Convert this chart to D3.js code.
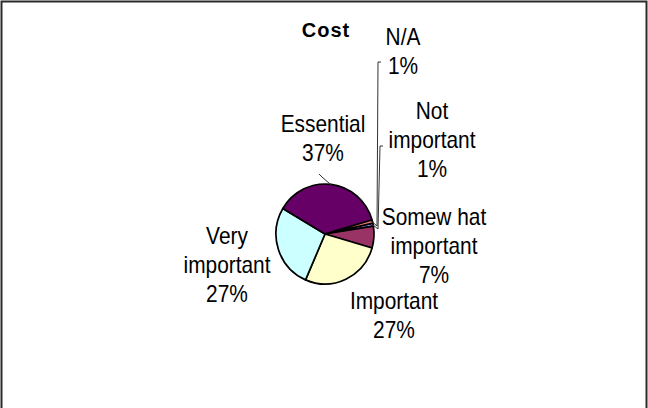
<!DOCTYPE html>
<html>
<head>
<meta charset="utf-8">
<script src="https://cdn.jsdelivr.net/npm/d3@7"></script>
<style>
  html, body { margin: 0; padding: 0; background: #fff; }
  svg { display: block; }
  text { font-family: Arial, "Liberation Sans", sans-serif; fill: #000; }
</style>
</head>
<body>
<script>
// Survey answers for "Cost", in worksheet order (drawn clockwise)
const categories = ["Not important", "Somewhat important", "Important", "Very important", "Essential", "N/A"];
const values = [1, 7, 27, 27, 37, 1];
const colors = ["#9999FF", "#993366", "#FFFFCC", "#CCFFFF", "#660066", "#FF8080"];
// Label text as printed next to each slice, line by line
const labelLines = [
  ["Not", "important", "1%"],
  ["Somew hat", "important", "7%"],
  ["Important", "27%"],
  ["Very", "important", "27%"],
  ["Essential", "37%"],
  ["N/A", "1%"]
];
const title = "Cost";

const W = 648, H = 408;
const cx = 325, cy = 234, rx = 49, ry = 50;
const firstSliceAngle = 77.4; // degrees, clockwise from 12 o'clock

const svg = d3.select("body").append("svg")
  .attr("width", W).attr("height", H);

// chart frame (runs past the bottom edge)
svg.append("rect")
  .attr("x", 1.5).attr("y", 1.5)
  .attr("width", 645).attr("height", H + 10)
  .attr("fill", "#fff").attr("stroke", "#2a2a2a").attr("stroke-width", 2);

svg.append("text")
  .attr("x", 326).attr("y", 37)
  .attr("text-anchor", "middle")
  .attr("font-size", 20).attr("font-weight", "bold")
  .attr("letter-spacing", 1)
  .text(title);

const pie = d3.pie().sort(null).value(d => d)
  .startAngle(firstSliceAngle * Math.PI / 180)
  .endAngle(firstSliceAngle * Math.PI / 180 + 2 * Math.PI);
const arcs = pie(values);
const arc = d3.arc().innerRadius(0).outerRadius(rx);

const pieG = svg.append("g")
  .attr("transform", `translate(${cx},${cy}) scale(1,${ry / rx})`);
pieG.selectAll("path").data(arcs).enter().append("path")
  .attr("d", arc)
  .attr("fill", (d, i) => colors[i])
  .attr("stroke", "#000")
  .attr("stroke-width", 1.7)
  .attr("vector-effect", "non-scaling-stroke")
  .attr("stroke-linejoin", "round");

// point on the slice rim at its middle angle
function rimPoint(d, k = 1) {
  const a = (d.startAngle + d.endAngle) / 2;
  return [cx + rx * k * Math.sin(a), cy - ry * k * Math.cos(a)];
}

// label anchor (centre x, first baseline) for each slice
const labelPos = [
  [432, 119],
  [434, 225],
  [394, 309],
  [227, 244],
  [323, 132],
  [403, 45]
];
const lineGap = 29;
const fontSize = 24, squeeze = 0.87;

labelLines.forEach((lines, i) => {
  const [lx, ly] = labelPos[i];
  const g = svg.append("g")
    .attr("transform", `translate(${lx},${ly}) scale(${squeeze},1)`);
  g.selectAll("text").data(lines).enter().append("text")
    .attr("x", 0).attr("y", (d, j) => j * lineGap)
    .attr("text-anchor", "middle")
    .attr("font-size", fontSize)
    .text(d => d);
});

// leader lines from labels to their slices
const leaders = {
  4: [[319, 174], [322, 177]],
  5: [[381, 62], [378, 62], [377, 226]],
  0: [[383, 146], [380, 146], [378, 229]]
};
Object.keys(leaders).forEach(k => {
  const pts = leaders[k].concat([rimPoint(arcs[+k], 0.99)]);
  svg.append("path")
    .attr("d", d3.line()(pts))
    .attr("fill", "none")
    .attr("stroke", "#333")
    .attr("stroke-width", 1);
});
</script>
</body>
</html>
